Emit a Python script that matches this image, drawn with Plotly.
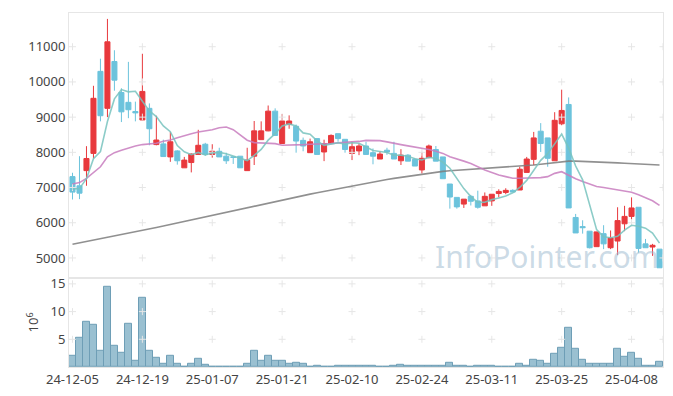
import plotly.graph_objects as go

dates = [
    "24-12-05","24-12-06","24-12-09","24-12-10","24-12-11","24-12-12","24-12-13","24-12-16","24-12-17","24-12-18",
    "24-12-19","24-12-20","24-12-23","24-12-24","24-12-26","24-12-27","24-12-30","25-01-02","25-01-03","25-01-06",
    "25-01-07","25-01-08","25-01-09","25-01-10","25-01-13","25-01-14","25-01-15","25-01-16","25-01-17","25-01-20",
    "25-01-21","25-01-22","25-01-23","25-01-24","25-01-31","25-02-03","25-02-04","25-02-05","25-02-06","25-02-07",
    "25-02-10","25-02-11","25-02-12","25-02-13","25-02-14","25-02-17","25-02-18","25-02-19","25-02-20","25-02-21",
    "25-02-24","25-02-25","25-02-26","25-02-27","25-02-28","25-03-04","25-03-05","25-03-06","25-03-07","25-03-10",
    "25-03-11","25-03-12","25-03-13","25-03-14","25-03-17","25-03-18","25-03-19","25-03-20","25-03-21","25-03-24",
    "25-03-25","25-03-26","25-03-27","25-03-28","25-03-31","25-04-01","25-04-02","25-04-03","25-04-04","25-04-07",
    "25-04-08","25-04-09","25-04-10","25-04-11","25-04-14",
]

open_ = [7310,7050,7480,7970,10300,9250,10580,9700,9420,9160,
         8920,9250,8220,8240,7870,8040,7560,7710,7940,8230,
         7940,8030,7890,7870,7890,7480,7890,8360,8610,9170,
         8250,8790,8740,8340,7990,8390,8010,8250,8530,8370,
         7970,8040,8180,7990,7810,8060,7970,7760,7920,7800,
         7500,7850,8080,7870,7100,6720,6530,6750,6620,6480,
         6620,6830,6860,6920,6930,7430,7800,8600,8410,7760,
         8810,9360,6150,5890,5760,5320,5690,5290,5480,5970,
         6180,6440,5400,5310,5250]
high = [7420,7890,8175,9890,10660,11790,10900,9820,10570,9440,
        10800,9390,9040,8360,8580,8060,7870,7970,8640,8270,
        8230,8130,7990,7870,7890,8130,8890,8880,9330,9250,
        9090,9050,8790,8420,8390,8390,8360,8510,8530,8370,
        8300,8250,8300,8110,8030,8130,8300,8090,7950,7840,
        8010,8220,8180,7870,7100,6720,6670,6790,6910,6860,
        6810,6950,6980,6950,7590,7870,8580,8830,8410,9140,
        9780,9560,6250,6070,5760,5740,5930,5780,6440,6480,
        6720,6440,5540,5400,5250]
low = [6660,6670,7050,7825,8880,9000,9750,8860,8970,8880,
       8900,8200,8200,7880,7730,7650,7560,7430,7940,7900,
       7850,7870,7670,7670,7560,7480,7640,8360,8600,8480,
       8250,8670,7990,8030,7990,7940,7750,8250,8300,7990,
       7780,7920,7940,7660,7810,7930,7810,7640,7750,7610,
       7400,7830,7750,7250,6400,6400,6420,6490,6400,6480,
       6480,6720,6810,6870,6930,7430,7640,8010,7590,7760,
       8770,6420,5710,5690,5270,5320,5250,5250,5080,5760,
       6090,5150,5290,5060,4720]
close = [6870,6840,7825,9535,9040,11140,10050,9150,9210,9120,
         9730,8670,8350,7880,8300,7760,7780,7950,8200,7940,
         8030,7870,7760,7860,7560,7780,8610,8610,9170,8480,
         8890,8890,8320,8180,8300,7940,8250,8480,8390,8080,
         8160,8180,7940,7890,7950,8010,7810,7920,7750,7610,
         7830,8180,7750,7250,6730,6450,6670,6610,6440,6750,
         6810,6890,6920,6870,7520,7810,8410,8250,7830,8910,
         9190,6420,5710,5860,5290,5740,5400,5570,6060,6180,
         6420,5270,5290,5360,4720]

ma5 = [6960,6970,7250,7820,8022,8876,9518,9783,9718,9734,
       9452,9176,9016,8750,8586,8192,8014,7934,7998,7926,
       7980,7998,7960,7892,7816,7766,7914,8084,8346,8530,
       8752,8808,8750,8552,8516,8326,8198,8230,8272,8228,
       8272,8258,8150,8050,8024,7994,7920,7916,7888,7820,
       7784,7858,7824,7724,7548,7272,6970,6742,6580,6584,
       6656,6700,6762,6848,7002,7202,7506,7772,7964,8242,
       8518,8120,7612,7218,6494,5804,5602,5574,5614,5792,
       5928,5902,5846,5706,5420]
ma20 = [7100,7140,7260,7430,7590,7870,7990,8060,8130,8180,
        8220,8230,8260,8315,8350,8417,8484,8530,8577,8606,
        8642,8699,8718,8642,8501,8344,8276,8268,8270,8248,
        8203,8203,8203,8220,8231,8231,8248,8248,8268,8276,
        8296,8310,8340,8344,8333,8296,8248,8220,8183,8155,
        8107,8080,8030,7970,7873,7820,7750,7685,7590,7499,
        7430,7358,7310,7262,7262,7262,7270,7282,7310,7403,
        7450,7340,7250,7169,7093,7028,7000,6963,6934,6907,
        6868,6794,6718,6625,6493]
ma120 = [5390,5428,5466,5504,5542,5580,5618,5656,5694,5732,
         5776,5820,5864,5908,5952,5996,6040,6084,6128,6172,
         6216,6260,6304,6348,6392,6436,6480,6524,6568,6612,
         6652,6692,6732,6772,6812,6852,6892,6932,6972,7012,
         7052,7092,7132,7170,7200,7230,7260,7290,7320,7350,
         7380,7410,7435,7460,7475,7488,7498,7508,7518,7530,
         7545,7560,7575,7590,7605,7620,7640,7660,7680,7710,
         7735,7750,7750,7745,7740,7730,7720,7710,7700,7690,
         7680,7670,7660,7650,7640]
volume_m = [2.0,5.3,8.2,7.6,2.9,14.5,3.8,2.5,7.8,1.1,
            12.5,3.0,1.7,0.66,2.0,0.5,0.12,0.5,1.4,0.35,
            0.12,0.1,0.1,0.1,0.1,0.66,2.9,1.2,2.1,1.1,
            1.2,0.55,0.85,0.55,0.12,0.3,0.1,0.1,0.15,0.15,
            0.15,0.15,0.15,0.15,0.0,0.0,0.15,0.35,0.15,0.15,
            0.2,0.3,0.3,0.3,0.7,0.15,0.15,0.0,0.15,0.15,
            0.15,0.0,0.0,0.0,0.5,0.3,1.25,1.1,0.55,2.3,
            3.4,7.1,3.2,1.25,0.55,0.65,0.55,0.65,3.2,1.8,
            2.5,1.55,0.3,0.3,0.9]

price_ticks = [5000, 6000, 7000, 8000, 9000, 10000, 11000]
vol_ticks = [5, 10, 15]
date_tick_idx = [0, 10, 20, 30, 40, 50, 60, 70, 80]

RED = "#e8393d"
CYAN = "#6cc3dc"
FONT = "Noto Sans"
LINE = "#e6e6e6"
CROSS = "#e6e6e6"

x = list(range(len(dates)))

fig = go.Figure()

# faint grid crosses at tick intersections
cross_x = [x[i] for i in date_tick_idx] + [84.5]
fig.add_trace(go.Scatter(
    x=[cx for cx in cross_x for _ in price_ticks],
    y=[py for _ in cross_x for py in price_ticks],
    mode="markers", marker=dict(symbol="cross-thin", size=5, line=dict(color=CROSS, width=1)),
    hoverinfo="skip", showlegend=False, xaxis="x", yaxis="y"))
fig.add_trace(go.Scatter(
    x=[cx for cx in cross_x for _ in vol_ticks],
    y=[vy for _ in cross_x for vy in vol_ticks],
    mode="markers", marker=dict(symbol="cross-thin", size=5, line=dict(color=CROSS, width=1)),
    hoverinfo="skip", showlegend=False, xaxis="x2", yaxis="y2"))

fig.add_trace(go.Candlestick(
    x=x, open=open_, high=high, low=low, close=close,
    increasing=dict(line=dict(color=RED, width=1), fillcolor=RED),
    decreasing=dict(line=dict(color=CYAN, width=1), fillcolor=CYAN),
    whiskerwidth=0, showlegend=False, xaxis="x", yaxis="y"))

fig.add_trace(go.Scatter(x=x, y=ma120, mode="lines", line=dict(color="rgba(125,125,125,0.85)", width=1.6),
                         showlegend=False, xaxis="x", yaxis="y"))
fig.add_trace(go.Scatter(x=x, y=ma20, mode="lines", line=dict(color="rgba(200,125,190,0.85)", width=1.6),
                         showlegend=False, xaxis="x", yaxis="y"))
fig.add_trace(go.Scatter(x=x, y=ma5, mode="lines", line=dict(color="rgba(120,195,190,0.85)", width=1.6),
                         showlegend=False, xaxis="x", yaxis="y"))

fig.add_trace(go.Bar(
    x=x, y=volume_m, marker=dict(color="rgba(143,185,204,0.9)", line=dict(color="rgba(110,158,182,1)", width=1)),
    showlegend=False, xaxis="x2", yaxis="y2"))

fig.add_annotation(text="InfoPointer.com", xref="paper", yref="paper", x=0.805, y=0.311,
                   xanchor="center", yanchor="middle", showarrow=False,
                   font=dict(family="Noto Sans", size=30, color="rgba(160,188,208,0.55)"))

axis_font = dict(family=FONT, size=13, color="#444444")
fig.update_layout(
    width=665, height=388,
    margin=dict(l=61, r=10, t=2, b=29),
    paper_bgcolor="white", plot_bgcolor="white",
    bargap=0, boxgap=0.28, boxgroupgap=0, showlegend=False,
    xaxis=dict(domain=[0, 1], anchor="y", range=[-0.5, 84.5], showticklabels=False,
               showgrid=False, zeroline=False, showline=True, mirror=True, linecolor=LINE,
               rangeslider=dict(visible=False)),
    yaxis=dict(domain=[0.252, 1], anchor="x", range=[4436, 11958], tickvals=price_ticks,
               ticktext=[str(v) for v in price_ticks], tickfont=axis_font,
               showgrid=False, zeroline=False, showline=True, mirror=True, linecolor=LINE, ticks=""),
    xaxis2=dict(domain=[0, 1], anchor="y2", matches="x", range=[-0.5, 84.5],
                tickvals=[x[i] for i in date_tick_idx], ticktext=[dates[i] for i in date_tick_idx],
                tickfont=axis_font, showgrid=False, zeroline=False, showline=True, mirror=True,
                linecolor=LINE, ticks=""),
    yaxis2=dict(domain=[0, 0.252], anchor="x2", range=[0, 16.1], tickvals=vol_ticks,
                ticktext=[str(v) for v in vol_ticks], tickfont=axis_font,
                title=dict(text="10<sup>6</sup>", font=axis_font, standoff=8),
                showgrid=False, zeroline=False, showline=True, mirror=True, linecolor=LINE, ticks=""),
)

fig.write_html("out.html")
